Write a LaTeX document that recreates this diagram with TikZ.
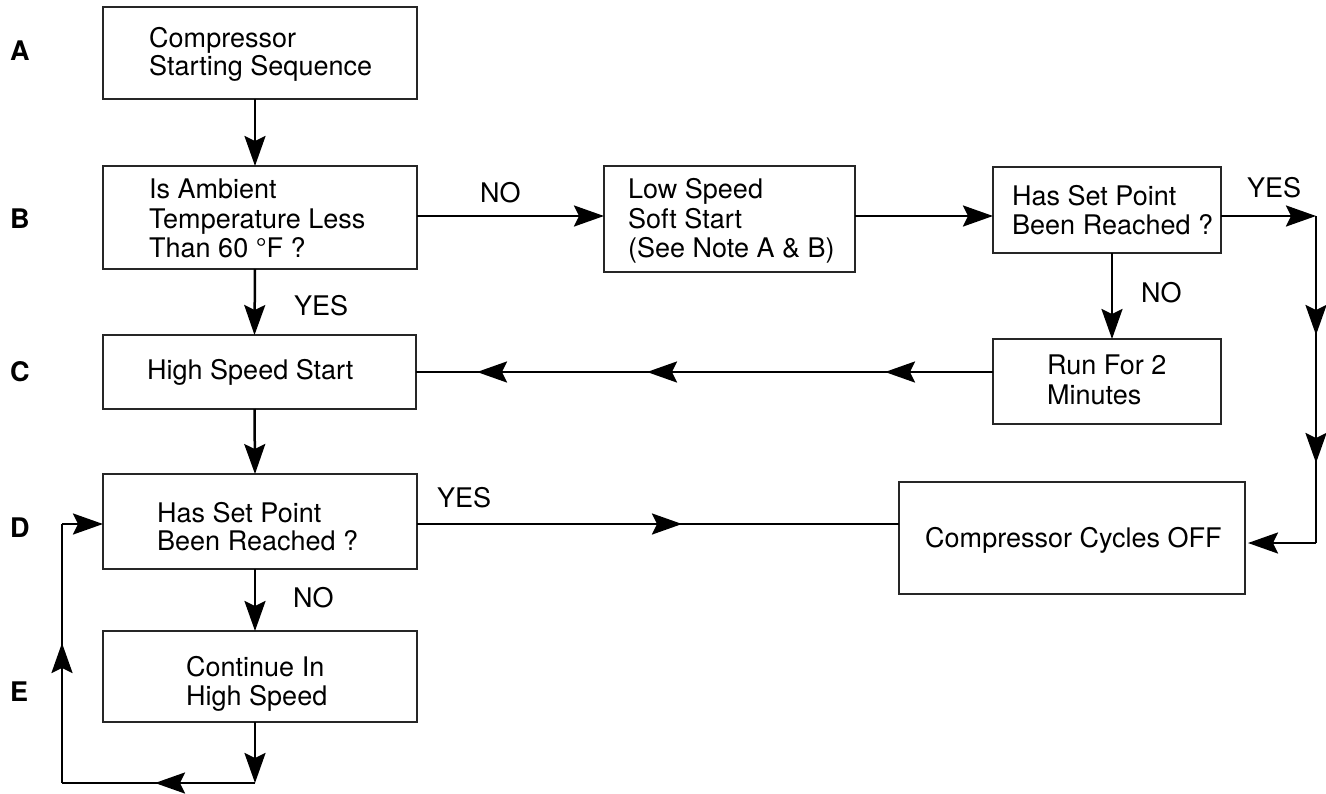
\documentclass[tikz,border=0pt]{standalone}
\usepackage{fontspec}
\setmainfont{TeX Gyre Heros}
\usetikzlibrary{arrows.meta,decorations.markings}
\begin{document}
\begin{tikzpicture}[x=1pt,y=-1pt,
  box/.style={draw=black!85,line width=1.1pt,inner sep=0pt,outer sep=0pt},
  txt/.style={anchor=base west,inner sep=0pt,font=\fontsize{27}{29}\selectfont},
  lbl/.style={anchor=base west,inner sep=0pt,font=\fontsize{27}{29}\selectfont\bfseries},
  conn/.style={line width=2.5pt},
  arr/.style={conn,-{Stealth[length=30pt,width=21pt,inset=5pt]}},
  midarr/.style={postaction={decorate},decoration={markings,mark=at position #1 with {\arrow{Stealth[length=30pt,width=21pt,inset=5pt]}}}}
]
\useasboundingbox (0,0) rectangle (1326,793);
\fill[white] (0,0) rectangle (1326,793);
% boxes
\node[box,minimum width=314pt,minimum height=92pt] (a) at (260,53) {};
\node[box,minimum width=314pt,minimum height=103pt] (b) at (260,217.5) {};
\node[box,minimum width=251pt,minimum height=106pt] (ls) at (729.5,219) {};
\node[box,minimum width=228pt,minimum height=86pt] (hsp) at (1107,210) {};
\node[box,minimum width=228pt,minimum height=85pt] (run) at (1107,381.5) {};
\node[box,minimum width=313pt,minimum height=74pt] (hs) at (259.5,372) {};
\node[box,minimum width=314pt,minimum height=95pt] (d) at (260,521.5) {};
\node[box,minimum width=314pt,minimum height=91pt] (e) at (260,676.5) {};
\node[box,minimum width=346pt,minimum height=112pt] (cco) at (1072,538) {};
% box texts
\node[txt] (a1) at (149,47) {Compressor};
\node[txt] (a2) at (149,75) {Starting Sequence};
\node[txt] (b1) at (149,198) {Is Ambient};
\node[txt] (b2) at (149,228) {Temperature Less};
\node[txt] (b3) at (149,257) {Than 60 °F ?};
\node[txt] (ls1) at (628,198) {Low Speed};
\node[txt] (ls2) at (628,228) {Soft Start};
\node[txt] (ls3) at (628,257) {(See Note A \& B)};
\node[txt] (hsp1) at (1012,205) {Has Set Point};
\node[txt] (hsp2) at (1012,234) {Been Reached ?};
\node[txt] (run1) at (1047,374) {Run For 2};
\node[txt] (run2) at (1047,404) {Minutes};
\node[txt] (hs1) at (147,379) {High Speed Start};
\node[txt] (d1) at (157,522) {Has Set Point};
\node[txt] (d2) at (157,550) {Been Reached ?};
\node[txt] (e1) at (186,676) {Continue In};
\node[txt] (e2) at (186,705) {High Speed};
\node[txt] (cco1) at (925,547) {Compressor Cycles OFF};
% connector labels
\node[txt] (no1) at (480,202) {NO};
\node[txt] (yes1) at (1247,197) {YES};
\node[txt] (yes2) at (294,315) {YES};
\node[txt] (no2) at (1141,302) {NO};
\node[txt] (yes3) at (437,507) {YES};
\node[txt] (no3) at (293,607) {NO};
% row letters
\node[lbl] (la) at (10,60) {A};
\node[lbl] (lb) at (10,228) {B};
\node[lbl] (lc) at (10,381) {C};
\node[lbl] (ld) at (10,537) {D};
\node[lbl] (le) at (10,701) {E};
% coordinates
\coordinate (c1) at (1316,216);
\coordinate (c2) at (1316,543);
\coordinate (c3) at (255,783);
\coordinate (c4) at (62,783);
\coordinate (c5) at (62,524);
% connectors
\draw[arr] ([xshift=-5pt]a.south) -- ([xshift=-5pt]b.north);
\draw[arr] ([yshift=1.5pt]b.east) -- ([yshift=1.5pt]b.east -| ls.west);
\draw[arr] ([yshift=3pt]ls.east) -- ([yshift=3pt]ls.east -| hsp.west);
\draw[arr] ([yshift=-6pt]hsp.east) -- (c1);
\draw[conn,midarr=119pt] (c1) -- (c2);
\draw[conn,midarr=247pt] (c1) -- (c2);
\draw[arr,shorten >=3pt] (c2) -- (c2 -| cco.east);
\draw[arr] ([xshift=5pt]hsp.south) -- ([xshift=5pt]run.north);
\draw[conn,midarr=108pt] (hs.east -| run.west) -- (hs.east);
\draw[conn,midarr=346pt] (hs.east -| run.west) -- (hs.east);
\draw[conn,midarr=516pt] (hs.east -| run.west) -- (hs.east);
\draw[arr] ([xshift=-5pt]b.south) -- ([xshift=-5pt]hs.north);
\draw[arr] ([xshift=-5pt]hs.south) -- ([xshift=-5pt]d.north);
\draw[conn,midarr=265pt] ([yshift=-2.5pt]d.east) -- ([yshift=-2.5pt]d.east -| cco.west);
\draw[arr] ([xshift=-5pt]d.south) -- ([xshift=-5pt]e.north);
\draw[arr] ([xshift=-5pt]e.south) -- (c3);
\draw[conn,midarr=100pt] (c3) -- (c4);
\draw[conn,midarr=140pt] (c4) -- (c5);
\draw[arr] (c5) -- (c5 -| d.west);
\end{tikzpicture}
\end{document}
